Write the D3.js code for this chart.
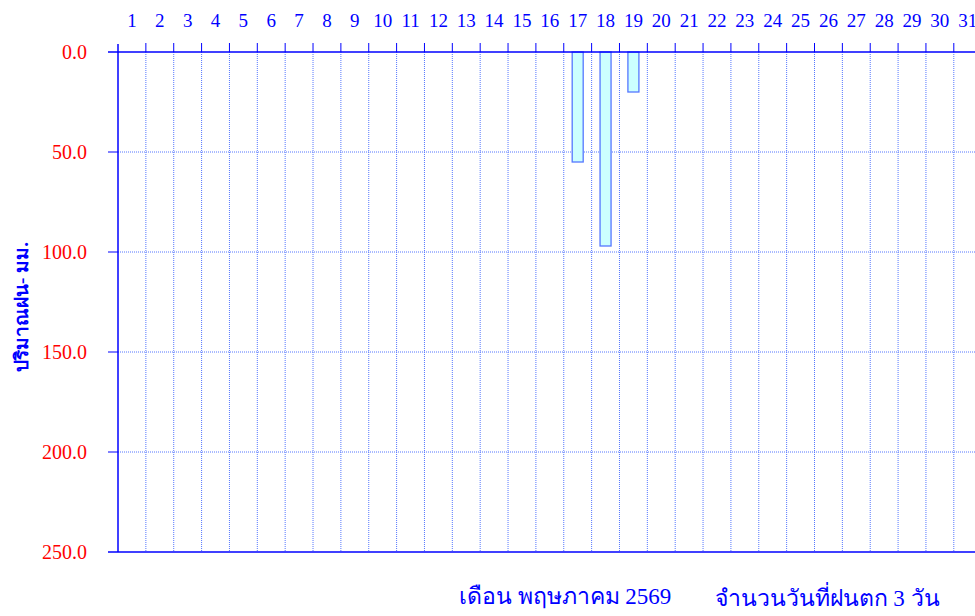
<!DOCTYPE html>
<html>
<head>
<meta charset="utf-8">
<script src="https://cdn.jsdelivr.net/npm/d3@7/dist/d3.min.js"></script>
<style>
  body { margin: 0; background: #fff; }
  svg text { font-family: "Liberation Serif", "Times New Roman", serif; }
</style>
</head>
<body>
<div id="chart"></div>
<script>
// daily rainfall, May 2569 (mm)
var days = d3.range(1, 32);
var rainDays = [17, 18, 19];
var rainValues = [55, 97, 20];
var yTicks = [0, 50, 100, 150, 200, 250];
var monthLabel = "เดือน  พฤษภาคม 2569";
var countLabel = "จำนวนวันที่ฝนตก 3  วัน";
var yTitle = "ปริมาณฝน- มม.";

var width = 975, height = 616;
var plotLeft = 118, plotTop = 52, plotBottom = 552;
var colW = 27.86;

var svg = d3.select("#chart").append("svg")
  .attr("width", width)
  .attr("height", height);

var x = d3.scaleBand()
  .domain(days)
  .range([plotLeft, plotLeft + colW * days.length])
  .padding(0);

var y = d3.scaleLinear()
  .domain([0, 250])
  .range([plotTop, plotBottom]);

// grid
svg.append("g")
  .selectAll("line")
  .data(days.slice(1))
  .enter().append("line")
  .attr("x1", function (d) { return x(d); })
  .attr("x2", function (d) { return x(d); })
  .attr("y1", plotTop)
  .attr("y2", plotBottom)
  .attr("stroke", "#5577ff")
  .attr("stroke-width", 1)
  .attr("stroke-dasharray", "1,1");

svg.append("g")
  .selectAll("line")
  .data(yTicks.slice(1, -1))
  .enter().append("line")
  .attr("x1", plotLeft)
  .attr("x2", width)
  .attr("y1", function (d) { return y(d); })
  .attr("y2", function (d) { return y(d); })
  .attr("stroke", "#5577ff")
  .attr("stroke-width", 1)
  .attr("stroke-dasharray", "1,1");

// bars
svg.append("g")
  .selectAll("rect")
  .data(rainDays)
  .enter().append("rect")
  .attr("x", function (d) { return x(d) + x.bandwidth() / 2 - 5.5; })
  .attr("y", y(0))
  .attr("width", 11)
  .attr("height", function (d, i) { return y(rainValues[i]) - y(0); })
  .attr("fill", "#ccffff")
  .attr("stroke", "#5577ff")
  .attr("stroke-width", 1.3);

// frame
svg.append("line")
  .attr("x1", plotLeft).attr("x2", plotLeft)
  .attr("y1", plotTop - 8).attr("y2", plotBottom)
  .attr("stroke", "#0000ff").attr("stroke-width", 1.5);
svg.append("line")
  .attr("x1", plotLeft - 10).attr("x2", width)
  .attr("y1", plotTop).attr("y2", plotTop)
  .attr("stroke", "#0000ff").attr("stroke-width", 1.5);
svg.append("line")
  .attr("x1", plotLeft - 10).attr("x2", width)
  .attr("y1", plotBottom).attr("y2", plotBottom)
  .attr("stroke", "#0000ff").attr("stroke-width", 1.5);

// ticks on top and left
svg.append("g")
  .selectAll("line")
  .data(days.slice(1))
  .enter().append("line")
  .attr("x1", function (d) { return x(d); })
  .attr("x2", function (d) { return x(d); })
  .attr("y1", plotTop - 9)
  .attr("y2", plotTop)
  .attr("stroke", "#0000ff");

svg.append("g")
  .selectAll("line")
  .data(yTicks.slice(1, -1))
  .enter().append("line")
  .attr("x1", plotLeft - 10)
  .attr("x2", plotLeft)
  .attr("y1", function (d) { return y(d); })
  .attr("y2", function (d) { return y(d); })
  .attr("stroke", "#0000ff");

// labels
svg.append("g")
  .selectAll("text")
  .data(days)
  .enter().append("text")
  .attr("x", function (d) { return x(d) + x.bandwidth() / 2; })
  .attr("y", 27)
  .attr("text-anchor", "middle")
  .attr("fill", "#0000ff")
  .attr("font-size", 19)
  .text(function (d) { return d; });

svg.append("g")
  .selectAll("text")
  .data(yTicks)
  .enter().append("text")
  .attr("x", 87)
  .attr("y", function (d) { return y(d) + 7; })
  .attr("text-anchor", "end")
  .attr("fill", "#ff0000")
  .attr("font-size", 20)
  .text(function (d) { return d.toFixed(1); });

svg.append("text")
  .attr("transform", "translate(28,307) rotate(-90)")
  .attr("text-anchor", "middle")
  .attr("fill", "#0000ff")
  .attr("font-size", 19)
  .attr("font-weight", "bold")
  .text(yTitle);

svg.append("text")
  .attr("x", 565)
  .attr("y", 604)
  .attr("text-anchor", "middle")
  .attr("fill", "#0000ff")
  .attr("font-size", 23)
  .text(monthLabel);

svg.append("text")
  .attr("x", 827)
  .attr("y", 606)
  .attr("text-anchor", "middle")
  .attr("fill", "#0000ff")
  .attr("font-size", 23)
  .text(countLabel);
</script>
</body>
</html>
